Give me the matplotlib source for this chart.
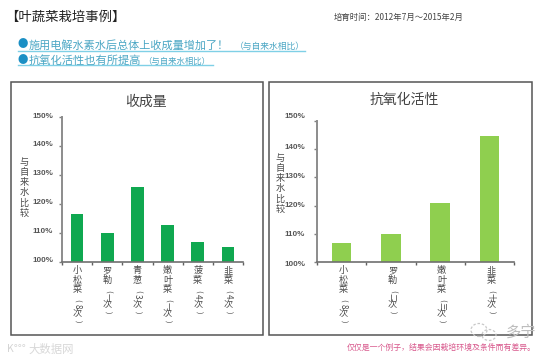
import matplotlib
matplotlib.use('Agg')
import matplotlib.pyplot as plt
from matplotlib.patches import Ellipse, Rectangle

plt.rcParams['font.family'] = ['Noto Sans CJK SC', 'DejaVu Sans']

W, H = 554, 361

# left chart
crops = ['小松菜', '罗勒', '青葱', '嫩叶菜', '菠菜', '韭菜']
crop_counts = ['8', '一', '3', '一', '4', '4']
crop_values = [116.4, 110.1, 125.9, 112.9, 106.8, 105.3]

# right chart
anti_names = ['小松菜', '罗勒', '嫩叶菜', '韭菜']
anti_counts = ['8', '二', '三', '十']
anti_values = [106.7, 110.0, 120.8, 144.7]

yticks = [100, 110, 120, 130, 140, 150]
ylabels = ['100%', '110%', '120%', '130%', '140%', '150%']

fig = plt.figure(figsize=(W / 100, H / 100), dpi=100, facecolor='white')


def px_axes(x0, y0, x1, y1):
    # pixel box, y measured from the top of the picture
    return fig.add_axes([x0 / W, 1 - y1 / H, (x1 - x0) / W, (y1 - y0) / H])


def px_text(x, y, s, **kw):
    fig.text(x / W, 1 - y / H, s, **kw)


def px_line(x0, x1, y, color, lw):
    fig.add_artist(plt.Line2D([x0 / W, x1 / W], [1 - y / H, 1 - y / H], color=color, lw=lw))


def vertical_label(ax, i, name, count, dx):
    # vertical writing, glyph by glyph; digit and parentheses lie on their side
    def put(s, down, rot=0, size=6.6):
        ax.annotate(s, (i, 100), xytext=(dx, -down), textcoords='offset pixels', ha='center',
                    va='center', fontsize=size, color='#4a4a4a', rotation=rot,
                    rotation_mode='anchor', annotation_clip=False)
    y = 8.5
    for ch in name:
        put(ch, y)
        y += 9.6
    y += 2.5
    put('(', y - 1, rot=-90, size=5.5)
    put(count, y + 4.5, rot=-90, size=5.8)
    put('次', y + 12)
    put(')', y + 20, rot=-90, size=5.5)


def bars(box, names, counts, values, color, width, ylab_xy, label_shift, pad, dx):
    ax = px_axes(*box)
    x = range(len(values))
    ax.bar(x, [v - 100 for v in values], bottom=100, width=width, color=color)
    ax.set_xlim(-0.5, len(values) - 0.5)
    ax.set_ylim(100, 150)
    ax.set_yticks(yticks)
    ax.set_yticklabels([])
    ax.set_xticks([i - 0.5 for i in range(len(values) + 1)])
    ax.set_xticklabels([])
    ax.tick_params(axis='y', length=2.5, width=1, color='#808080')
    ax.tick_params(axis='x', length=2, width=1, color='#606060')
    for s in ['top', 'right']:
        ax.spines[s].set_visible(False)
    ax.spines['left'].set_color('#8c8c8c')
    ax.spines['left'].set_linewidth(1.4)
    ax.spines['bottom'].set_color('#707070')
    ax.spines['bottom'].set_linewidth(1.2)
    # the printed labels do not sit exactly at their ticks
    for t, lab, shift in zip(yticks, ylabels, label_shift):
        ax.annotate(lab, (-0.5, t), xytext=(-pad, shift), textcoords='offset pixels', ha='right',
                    va='center', fontsize=5.8, color='#555555', fontfamily='Liberation Sans',
                    fontweight='bold', annotation_clip=False)
    for i, (n, c) in enumerate(zip(names, counts)):
        vertical_label(ax, i, n, c, dx)
    px_text(ylab_xy[0], ylab_xy[1], '\n'.join('与自来水比较'), ha='center', va='center',
            fontsize=6.6, color='#4a4a4a', linespacing=1.16)
    return ax


bars((62, 117, 243, 262), crops, crop_counts, crop_values, '#0fa850', 0.42, (24, 188),
     [1.5, 1.5, 1.5, 1.5, 1.5, 1], 9, 0)
bars((317, 121, 514, 262), anti_names, anti_counts, anti_values, '#8fcf4f', 0.40, (280, 184),
     [-3, -1, 0, 1, 2, 4], 12, 1.5)

# frames around the charts
for x0, y0, x1, y1 in [(10.5, 82, 263, 334.5), (268.5, 82, 532, 334.5)]:
    fig.add_artist(Rectangle((x0 / W, 1 - y1 / H), (x1 - x0) / W, (y1 - y0) / H, fill=False,
                             edgecolor='#555555', lw=1.1, transform=fig.transFigure))

px_text(146, 102, '收成量', ha='center', va='center', fontsize=10, color='#444444')
px_text(404, 100, '抗氧化活性', ha='center', va='center', fontsize=10, color='#444444')

# header
px_text(5, 17, '【叶蔬菜栽培事例】', ha='left', va='center', fontsize=9.6, color='#222222')
px_text(334, 17, '培育时间：2012年7月～2015年2月', ha='left', va='center', fontsize=6, color='#444444')

px_text(18, 44.5, '●', ha='left', va='center', fontsize=7.5, color='#1b8fc4')
px_text(29, 45, '施用电解水素水后总体上收成量增加了！', ha='left', va='center', fontsize=8, color='#4aa6c4')
px_text(235, 46, '（与自来水相比）', ha='left', va='center', fontsize=6.3, color='#4aa6c4')
px_line(18, 305, 50.5, '#7fd0e6', 1.0)

px_text(18, 59.5, '●', ha='left', va='center', fontsize=7.5, color='#1b8fc4')
px_text(29, 60, '抗氧化活性也有所提高', ha='left', va='center', fontsize=8.1, color='#4aa6c4')
px_text(143, 61, '（与自来水相比）', ha='left', va='center', fontsize=6, color='#4aa6c4')
px_line(18, 213, 65, '#7fd0e6', 1.0)

# footnote and watermarks
px_text(347, 347, '仅仅是一个例子，结果会因栽培环境及条件而有差异。', ha='left', va='center', fontsize=5.7, color='#d8588c')
px_text(7, 349, 'K°°°', ha='left', va='center', fontsize=7.5, color='#d4d4d4')
px_text(28, 349, '大数据网', ha='left', va='center', fontsize=8.2, color='#d8d8d8')
px_text(521, 332, '多宁', ha='center', va='center', fontsize=11, color='#bdbdbd')
for cx, cy, w, h in [(479, 330, 16, 13), (489, 335, 14, 11)]:
    fig.add_artist(Ellipse((cx / W, 1 - cy / H), w / W, h / H, fill=False, edgecolor='#c8c8c8',
                           lw=0.9, ls=(0, (2, 1.5)), transform=fig.transFigure))

fig.savefig('out.png', dpi=100)
